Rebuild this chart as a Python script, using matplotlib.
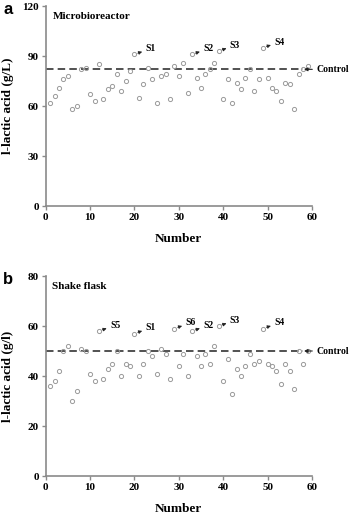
import matplotlib
matplotlib.use("Agg")
import matplotlib.pyplot as plt

# ---- data ----
numbers = list(range(1, 60))
micro_values = [62, 66, 71, 76, 78, 58, 60, 82, 83, 67,
                63, 85, 64, 70, 72, 79, 69, 75, 81, 91,
                65, 73, 83, 76, 62, 78, 79, 64, 84, 78,
                86, 68, 91, 77, 71, 79, 82, 86, 93, 64,
                76, 62, 74, 70, 77, 82, 69, 76, 95, 77,
                71, 69, 63, 74, 73, 58, 79, 82, 84]
flask_values = [36, 38, 42, 50, 52, 30, 34, 51, 50, 41,
                38, 58, 39, 43, 45, 50, 40, 45, 44, 57,
                40, 45, 50, 48, 41, 51, 49, 39, 59, 44,
                49, 40, 58, 48, 44, 49, 45, 52, 60, 38,
                47, 33, 43, 40, 44, 49, 45, 46, 59, 45,
                44, 42, 37, 45, 42, 35, 50, 45, 50]
micro_control = 82
flask_control = 50
micro_labels = {20: "S1", 33: "S2", 39: "S3", 49: "S4"}
flask_labels = {12: "S5", 20: "S1", 29: "S6", 33: "S2", 39: "S3", 49: "S4"}
micro_yticks = [0, 30, 60, 90, 120]
flask_yticks = [0, 20, 40, 60, 80]
xticks = [0, 10, 20, 30, 40, 50, 60]

serif = ["Liberation Serif", "DejaVu Serif"]
plt.rcParams["font.family"] = serif
plt.rcParams["font.weight"] = "bold"

fig = plt.figure(figsize=(3.5, 5.17), dpi=100)
W, H = 350, 517

def make_axes(top_px):
    left = 45.7 / W
    width = 266.3 / W
    height = 200 / H
    bottom = 1 - (top_px + 200) / H
    return fig.add_axes([left, bottom, width, height])

def style(ax, values, control, labels, yticks, ylabel, title):
    ymax = yticks[-1]
    ax.plot(numbers, values, linestyle="none", marker="o", markersize=3.0,
            markerfacecolor="none", markeredgecolor="#9a9a9a", markeredgewidth=0.7,
            clip_on=False, zorder=3)
    ax.plot([0, 58], [control, control], linestyle=(0, (4.5, 2.5)), color="#333333",
            linewidth=1.2, zorder=2)
    ax.annotate("Control", xy=(58.2, control), xytext=(61.0, control),
                fontsize=7, fontweight="bold", va="center", ha="left",
                arrowprops=dict(arrowstyle="-|>", color="#222222", lw=0.8,
                                mutation_scale=5, shrinkA=1, shrinkB=0),
                annotation_clip=False)
    for n, lab in labels.items():
        v = values[numbers.index(n)]
        ax.annotate(lab, xy=(n, v), xytext=(8, 4), textcoords="offset points",
                    fontsize=7, fontweight="bold", va="center", ha="left",
                    arrowprops=dict(arrowstyle="<|-", color="#222222", lw=0.6,
                                    mutation_scale=5, shrinkA=0.5, shrinkB=2.5))
    ax.set_xlim(0, 60)
    ax.set_ylim(0, ymax)
    ax.set_xticks(xticks)
    ax.set_yticks(yticks)
    for s in ["top", "right"]:
        ax.spines[s].set_visible(False)
    for s in ["left", "bottom"]:
        ax.spines[s].set_color("#8a8a8a")
        ax.spines[s].set_linewidth(1.2)
    ax.tick_params(direction="out", length=3, width=1.0, color="#8a8a8a",
                   labelsize=8, pad=2)
    for lbl in ax.get_xticklabels() + ax.get_yticklabels():
        lbl.set_fontweight("bold")
    ax.set_xlabel("Number", fontsize=9.5, fontweight="bold", labelpad=8)
    ax.set_ylabel(ylabel, fontsize=9.5, fontweight="bold")
    ax.yaxis.set_label_coords(-0.12, 0.5)
    ax.text(0.025, 0.97, title, transform=ax.transAxes, fontsize=8,
            fontweight="bold", va="top", ha="left")
    return ax

ax1 = make_axes(6)
style(ax1, micro_values, micro_control, micro_labels, micro_yticks,
      "l-lactic acid (g/L)", "Microbioreactor")
ax2 = make_axes(276)
style(ax2, flask_values, flask_control, flask_labels, flask_yticks,
      "l-lactic acid (g/l)", "Shake flask")

fig.text(3 / W, 1 - 2 / H, "a", fontsize=12, fontweight="bold",
         family=["Liberation Sans", "DejaVu Sans"], va="top", ha="left")
fig.text(3 / W, 1 - 272 / H, "b", fontsize=12, fontweight="bold",
         family=["Liberation Sans", "DejaVu Sans"], va="top", ha="left")

fig.savefig("out.png", dpi=100)
